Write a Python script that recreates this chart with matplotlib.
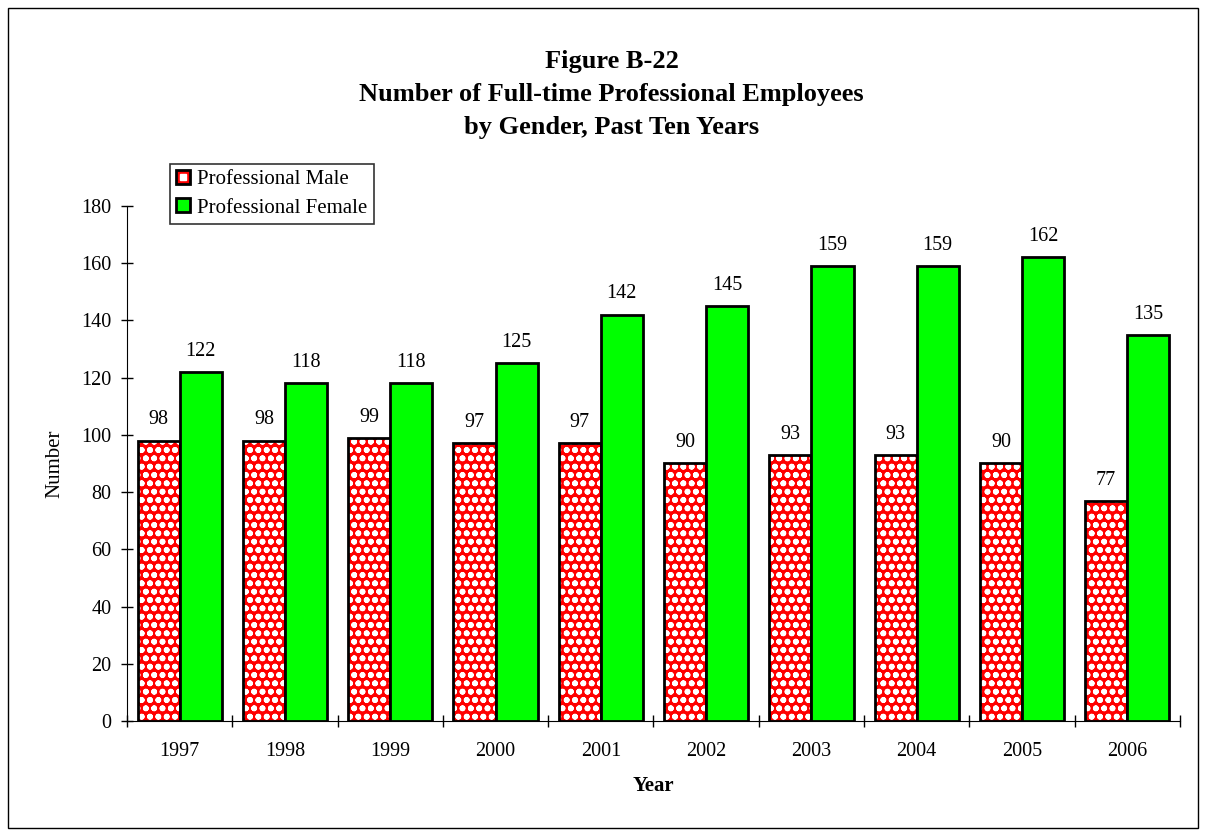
import matplotlib
matplotlib.use("Agg")
import matplotlib.pyplot as plt
import numpy as np
from matplotlib.patches import Rectangle
from matplotlib.lines import Line2D
from matplotlib.legend_handler import HandlerTuple

years = ["1997", "1998", "1999", "2000", "2001", "2002", "2003", "2004", "2005", "2006"]
male = [98, 98, 99, 97, 97, 90, 93, 93, 90, 77]
female = [122, 118, 118, 125, 142, 145, 159, 159, 162, 135]

plt.rcParams['font.family'] = ['Liberation Serif', 'DejaVu Serif']
plt.rcParams['hatch.linewidth'] = 1.8

fig = plt.figure(figsize=(12.06, 8.35), dpi=100)
ax = fig.add_axes([0.1053, 0.1365, 0.8731, 0.617])

x = np.arange(len(years))
w = 0.4

# male bars: red with white circle pattern, black outline drawn on top
ax.bar(x - w / 2, male, w, color="red", edgecolor="white", hatch="oo", linewidth=0, zorder=2)
ax.bar(x - w / 2, male, w, fill=False, edgecolor="black", linewidth=2, zorder=3)
ax.bar(x + w / 2, female, w, color="#00ff00", edgecolor="black", linewidth=2, zorder=3)

for xi, v in zip(x, male):
    ax.annotate(str(v), (xi - w / 2, v), xytext=(0, 8), textcoords="offset points",
                ha="center", va="bottom", fontsize=14.5)
for xi, v in zip(x, female):
    ax.annotate(str(v), (xi + w / 2, v), xytext=(0, 8), textcoords="offset points",
                ha="center", va="bottom", fontsize=14.5)

ax.set_xlim(-0.5, len(years) - 0.5)
ax.set_ylim(0, 180)
ax.set_yticks(range(0, 181, 20))
ax.set_xticks(x)
ax.set_xticklabels(years)
ax.set_xticks(np.arange(-0.5, len(years), 1), minor=True)
ax.tick_params(axis="x", which="major", length=0, pad=15, labelsize=14.5)
ax.tick_params(axis="x", which="minor", direction="inout", length=8.6, width=1)
ax.tick_params(axis="y", direction="inout", length=8.6, width=1, labelsize=14.5, pad=7)

for s in ["top", "right"]:
    ax.spines[s].set_visible(False)

ax.set_ylabel("Number", fontsize=15, labelpad=12)
ax.set_xlabel("Year", fontsize=15, fontweight="bold", labelpad=11)

fig.text(0.507, 0.887, "Figure B-22\nNumber of Full-time Professional Employees\nby Gender, Past Ten Years",
         ha="center", va="center", fontsize=19, fontweight="bold", linespacing=1.55)

# legend: male swatch is red with a white centre, as in the original
male_handle = (Rectangle((0, 0), 1, 1, facecolor="red", edgecolor="black", linewidth=2),
               Line2D([], [], marker="s", color="white", markersize=4.5, linestyle="None"))
female_handle = Rectangle((0, 0), 1, 1, facecolor="#00ff00", edgecolor="black", linewidth=2)
leg = ax.legend([male_handle, female_handle], ["Professional Male", "Professional Female"],
                handler_map={tuple: HandlerTuple(ndivide=1)}, loc="upper left",
                bbox_to_anchor=(0.041, 1.082), fontsize=15, frameon=True, fancybox=False,
                handlelength=0.65, handleheight=0.65, handletextpad=0.35, borderpad=0.3,
                labelspacing=0.45, borderaxespad=0)
leg.get_frame().set_edgecolor("black")
leg.get_frame().set_linewidth(1.2)

fig.patches.append(Rectangle((0.007, 0.008), 0.986, 0.983, transform=fig.transFigure,
                             fill=False, edgecolor="black", linewidth=1))

fig.savefig("out.png", dpi=100)
